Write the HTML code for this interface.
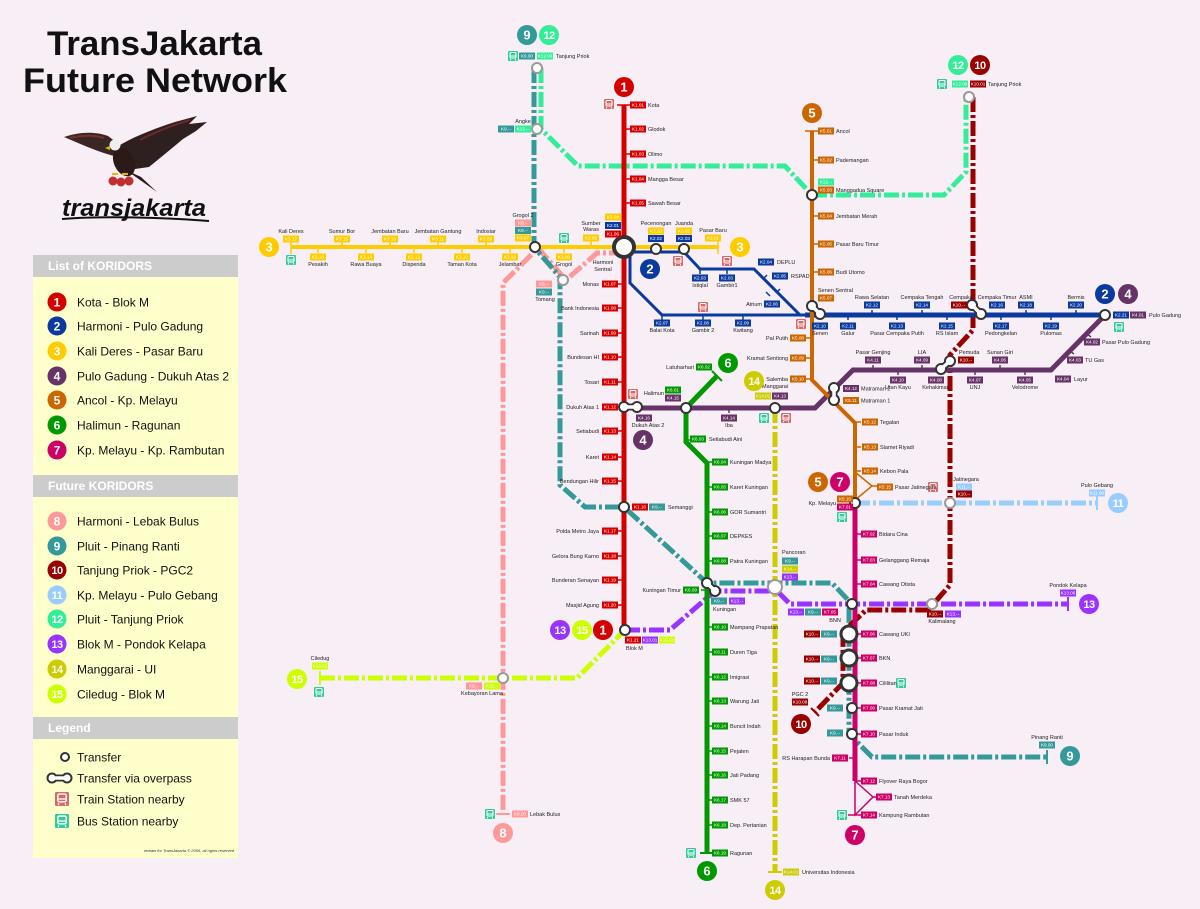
<!DOCTYPE html>
<html><head><meta charset="utf-8"><style>
html,body{margin:0;padding:0;background:#f8eef6}
svg{display:block}
text{font-family:"Liberation Sans",sans-serif}
.n{font-size:5.5px;fill:#222}
.e{text-anchor:end}
.m{text-anchor:middle}
.w{font-size:4.6px;fill:#fff;text-anchor:middle}
.bn{font-size:13px;font-weight:bold;fill:#fff;text-anchor:middle}
.bs{font-size:11px;font-weight:bold;fill:#fff;text-anchor:middle;letter-spacing:-0.5px}
.c1{fill:#d40000}.c2{fill:#0a3a9e}.c3{fill:#ffcc00}.c4{fill:#663366}.c5{fill:#cc6600}.c6{fill:#009900}.c7{fill:#cc0066}.c8{fill:#ff9999}.c9{fill:#339999}.c10{fill:#990000}.c11{fill:#99ccff}.c12{fill:#33ee99}.c13{fill:#9933ff}.c14{fill:#cccc00}.c15{fill:#ccff00}
.fl{fill:none;stroke-width:5;stroke-dasharray:15 3 3 3}
.sl{fill:none}
.tr{fill:#fff;stroke:#333;stroke-width:2}
.tg{fill:#fff;stroke:#999;stroke-width:2}
.lg{font-size:12px;fill:#111}
.hd{font-size:12px;font-weight:bold;fill:#fff}
</style></head><body>
<svg width="1200" height="909" viewBox="0 0 1200 909" xmlns="http://www.w3.org/2000/svg">
<rect width="1200" height="909" fill="#f8eef6"/>

<!-- Title -->
<text x="47" y="55" font-size="34" font-weight="bold" textLength="215" lengthAdjust="spacingAndGlyphs" fill="#111">TransJakarta</text>
<text x="23" y="92" font-size="34" font-weight="bold" textLength="264" lengthAdjust="spacingAndGlyphs" fill="#111">Future Network</text>

<!-- Eagle -->
<g>
<path d="M64 137 C78 132 95 131 108 136 L120 145 L114 156 C102 153 90 148 78 143 Z" fill="#3a2624"/>
<path d="M70 138 C82 135 95 135 104 138" stroke="#7a3030" stroke-width="2" fill="none"/>
<path d="M112 150 C126 140 150 130 175 122 L197 116 L189 124 L207 122 L196 131 L183 139 C171 149 159 159 149 167 L128 170 Z" fill="#2e201e"/>
<path d="M140 140 C155 132 170 126 190 120" stroke="#6a2a2a" stroke-width="2" fill="none"/>
<ellipse cx="124" cy="162" rx="10" ry="15" transform="rotate(-25 124 162)" fill="#2a1a18"/>
<path d="M126 170 L157 192 L141 177 Z" fill="#2a1a18"/>
<circle cx="115" cy="145" r="5.5" fill="#eeeeee"/>
<path d="M110 146 l-5 2 l5 2z" fill="#e8b800"/>
<path d="M112 174h6M122 174h6" stroke="#e8b800" stroke-width="2"/>
<circle cx="113" cy="181" r="4.5" fill="#c03030"/>
<circle cx="121" cy="182" r="4.5" fill="#c03030"/>
<circle cx="129" cy="181" r="4.5" fill="#c03030"/>
</g>
<text x="62" y="216" font-size="24" font-weight="bold" font-style="italic" textLength="144" lengthAdjust="spacingAndGlyphs" fill="#111">transjakarta</text>
<path d="M62 219 C100 216 160 217 209 221" stroke="#111" stroke-width="2" fill="none"/>

<!-- Legend panel -->
<rect x="33" y="255" width="205" height="603" fill="#ffffcc"/>
<rect x="33" y="255" width="205" height="22" fill="#cccccc"/>
<text x="48" y="270" class="hd">List of KORIDORS</text>
<rect x="33" y="475" width="205" height="22" fill="#cccccc"/>
<text x="48" y="490" class="hd">Future KORIDORS</text>
<rect x="33" y="717" width="205" height="22" fill="#cccccc"/>
<text x="48" y="732" class="hd">Legend</text>

<g>
<circle cx="57" cy="302" r="9.5" fill="#d40000"/><text x="57" y="306.5" class="bn" style="font-size:12px">1</text><text x="77" y="306.5" class="lg">Kota - Blok M</text>
<circle cx="57" cy="326" r="9.5" fill="#0a3a9e"/><text x="57" y="330.5" class="bn" style="font-size:12px">2</text><text x="77" y="330.5" class="lg">Harmoni - Pulo Gadung</text>
<circle cx="57" cy="351" r="9.5" fill="#ffcc00"/><text x="57" y="355.5" class="bn" style="font-size:12px">3</text><text x="77" y="355.5" class="lg">Kali Deres - Pasar Baru</text>
<circle cx="57" cy="376" r="9.5" fill="#663366"/><text x="57" y="380.5" class="bn" style="font-size:12px">4</text><text x="77" y="380.5" class="lg">Pulo Gadung - Dukuh Atas 2</text>
<circle cx="57" cy="400" r="9.5" fill="#cc6600"/><text x="57" y="404.5" class="bn" style="font-size:12px">5</text><text x="77" y="404.5" class="lg">Ancol - Kp. Melayu</text>
<circle cx="57" cy="425" r="9.5" fill="#009900"/><text x="57" y="429.5" class="bn" style="font-size:12px">6</text><text x="77" y="429.5" class="lg">Halimun - Ragunan</text>
<circle cx="57" cy="450" r="9.5" fill="#cc0066"/><text x="57" y="454.5" class="bn" style="font-size:12px">7</text><text x="77" y="454.5" class="lg">Kp. Melayu - Kp. Rambutan</text>

<circle cx="57" cy="521" r="9.5" fill="#ff9999"/><text x="57" y="525.5" class="bn" style="font-size:12px">8</text><text x="77" y="525.5" class="lg">Harmoni - Lebak Bulus</text>
<circle cx="57" cy="546" r="9.5" fill="#339999"/><text x="57" y="550.5" class="bn" style="font-size:12px">9</text><text x="77" y="550.5" class="lg">Pluit - Pinang Ranti</text>
<circle cx="57" cy="570" r="9.5" fill="#990000"/><text x="57" y="574" class="bs">10</text><text x="77" y="574.5" class="lg">Tanjung Priok - PGC2</text>
<circle cx="57" cy="595" r="9.5" fill="#99ccff"/><text x="57" y="599" class="bs">11</text><text x="77" y="599.5" class="lg">Kp. Melayu - Pulo Gebang</text>
<circle cx="57" cy="619" r="9.5" fill="#33ee99"/><text x="57" y="623" class="bs">12</text><text x="77" y="623.5" class="lg">Pluit - Tanjung Priok</text>
<circle cx="57" cy="644" r="9.5" fill="#9933ff"/><text x="57" y="648" class="bs">13</text><text x="77" y="648.5" class="lg">Blok M - Pondok Kelapa</text>
<circle cx="57" cy="669" r="9.5" fill="#cccc00"/><text x="57" y="673" class="bs">14</text><text x="77" y="673.5" class="lg">Manggarai - UI</text>
<circle cx="57" cy="694" r="9.5" fill="#ccff00"/><text x="57" y="698" class="bs">15</text><text x="77" y="698.5" class="lg">Ciledug - Blok M</text>

<circle cx="65" cy="757" r="4" class="tr"/><text x="77" y="761.5" class="lg">Transfer</text>
<line x1="52" y1="778" x2="67" y2="778" stroke="#333" stroke-width="7"/>
<circle cx="52" cy="778" r="4.5" class="tr"/><circle cx="67" cy="778" r="4.5" class="tr"/>
<line x1="52" y1="778" x2="67" y2="778" stroke="#fff" stroke-width="3.5"/>
<text x="77" y="782.5" class="lg">Transfer via overpass</text>
<g transform="translate(62 799) scale(1.4)"><rect x="-5" y="-5" width="10" height="10" rx="1" fill="#d46a6a"/><rect x="-3" y="-3.5" width="6" height="5.5" rx="1" fill="none" stroke="#fff" stroke-width="1"/><path d="M-3 0h6M-2.5 3v1.5M2.5 3v1.5" stroke="#fff" stroke-width=".9"/></g>
<text x="77" y="803.5" class="lg">Train Station nearby</text>
<g transform="translate(62 821) scale(1.4)"><rect x="-5" y="-5" width="10" height="10" rx="1" fill="#33cc99"/><rect x="-3" y="-3.5" width="6" height="5.5" rx="1" fill="none" stroke="#fff" stroke-width="1"/><path d="M-3 0h6M-2.5 3v1.5M2.5 3v1.5" stroke="#fff" stroke-width=".9"/></g>
<text x="77" y="825.5" class="lg">Bus Station nearby</text>
<text x="234" y="852" font-size="4" font-style="italic" fill="#333" text-anchor="end">redraw for TransJakarta © 2006, all rights reserved</text>
</g>

<!-- ===== FUTURE LINES ===== -->
<path class="fl" stroke="#ff9999" d="M624 253H597L566 280L538 248L503 283V814"/>
<path d="M496 814h14" stroke="#ff9999" stroke-width="2"/>
<path class="fl" stroke="#339999" d="M534 68V247L560 277V485L585 507H624L707 583H832L849 601V734L872 757H1047"/>
<path d="M1047 750v14" stroke="#339999" stroke-width="2"/>
<path class="fl" stroke="#33ee99" d="M541 68V129L578 166H785L812 195H944L966 172V97"/>
<path class="fl" stroke="#990000" d="M973 97V330L950 355V585L928 610H866L843 632V683L815 712"/>
<path d="M811 708l8 8" stroke="#990000" stroke-width="2"/>
<path class="fl" stroke="#99ccff" d="M855 503H1097"/>
<path d="M1097 496v14" stroke="#99ccff" stroke-width="2"/>
<path class="fl" stroke="#9933ff" d="M625 630H670L715 591H777L790 604H1068"/>
<path d="M1068 597v14" stroke="#9933ff" stroke-width="2"/>
<path class="fl" stroke="#cccc00" d="M775 408V872"/>
<path d="M768 872h14" stroke="#cccc00" stroke-width="2"/>
<path class="fl" stroke="#ccff00" d="M320 678H577L625 630"/>
<path d="M320 671v14" stroke="#ccff00" stroke-width="2"/>

<!-- ===== SOLID LINES ===== -->
<path class="sl" stroke="#ffcc00" stroke-width="4" d="M291 247H718"/>
<path stroke="#ffcc00" stroke-width="1.5" d="M291 240v14M718 240v14M342 241v6M390 241v6M438 241v6M486 241v6M591 241v6M318 247v6M366 247v6M414 247v6M462 247v6M510 247v6M564 247v6"/>

<path class="sl" stroke="#0a3a9e" stroke-width="3" d="M624 252H684L700 269H754L800 315"/>
<path class="sl" stroke="#0a3a9e" stroke-width="3" d="M630 252V283L662 315H805"/>
<path class="sl" stroke="#0a3a9e" stroke-width="5" d="M805 315H1105"/>
<path stroke="#0a3a9e" stroke-width="1.5" d="M700 269v5M727 269v5M703 315v5M743 315v5M662 315v5M848 315v5M897 315v5M947 315v5M1001 315v5M1051 315v5M872 315v-5M922 315v-5M1026 315v-5M1076 315v-5M763 279l4-4M776 293l4-4M766 292l4 4"/>

<path class="sl" stroke="#d40000" stroke-width="5" d="M624 105V630"/>
<path stroke="#d40000" stroke-width="1.6" d="M617 105h14M624 129h6M624 154h6M624 179h6M624 203h6M618 284h6M618 308h6M618 333h6M618 357h6M618 382h6M618 431h6M618 457h6M618 481h6M618 531h6M618 556h6M618 580h6M618 605h6"/>

<path class="sl" stroke="#663366" stroke-width="5" d="M1105 315L1051 370H853L815 408H637"/>
<path stroke="#663366" stroke-width="1.5" d="M873 370v-5M922 370v-5M1000 370v-5M898 370v5M975 370v5M1025 370v5M729 408v5M1087 334l4 3M1070 351l4 3"/>

<path class="sl" stroke="#cc6600" stroke-width="4" d="M812 131V380L855 423V503"/>
<path class="sl" stroke="#cc6600" stroke-width="1.5" d="M855 472L872 486L855 500"/>
<path stroke="#cc6600" stroke-width="1.6" d="M805 131h14M812 160h6M812 216h6M812 244h6M812 272h6M806 338h6M806 358h6M806 379h6M855 422h6M855 447h6M855 471h6M872 486h5"/>

<path class="sl" stroke="#009900" stroke-width="5" d="M717 376L686 408V442L707 463V853"/>
<path stroke="#009900" stroke-width="2" d="M712 371l10 10M700 853h14"/>
<path stroke="#009900" stroke-width="1.5" d="M686 440h6M707 462h6M707 487h6M707 512h6M707 536h6M707 561h6M701 590h6M707 627h6M707 652h6M707 677h6M707 701h6M707 726h6M707 751h6M707 775h6M707 800h6M707 825h6"/>

<path class="sl" stroke="#cc0066" stroke-width="5" d="M855 503V781"/>
<path class="sl" stroke="#cc0066" stroke-width="1.5" d="M855 781L873 797L855 815V781"/>
<path stroke="#cc0066" stroke-width="1.6" d="M848 815h14M855 534h6M855 560h6M855 584h6M855 634h6M855 658h6M855 683h6M855 708h6M855 734h6M849 758h6M855 781h6M873 797h4"/>

<!-- ===== TRANSFER CIRCLES ===== -->
<circle cx="624" cy="247" r="10" fill="#fff" stroke="#333" stroke-width="4"/>
<circle cx="535" cy="247" r="5" class="tr"/>
<circle cx="656" cy="249" r="5" class="tr"/>
<circle cx="684" cy="249" r="5" class="tr"/>
<circle cx="686" cy="408" r="5" class="tr"/>
<circle cx="775" cy="408" r="5" class="tr"/>
<circle cx="624" cy="507" r="5" class="tr"/>
<circle cx="625" cy="630" r="5" class="tr"/>
<circle cx="812" cy="195" r="5" class="tr"/>
<circle cx="1105" cy="315" r="5" class="tr"/>
<circle cx="855" cy="503" r="5" class="tr"/>
<circle cx="852" cy="604" r="5" class="tr"/>
<circle cx="852" cy="708" r="5" class="tr"/>
<circle cx="852" cy="734" r="5" class="tr"/>
<circle cx="537" cy="68" r="5" class="tg"/>
<circle cx="537" cy="129" r="5" class="tg"/>
<circle cx="563" cy="280" r="5" class="tg"/>
<circle cx="775" cy="587" r="7" class="tg"/>
<circle cx="503" cy="678" r="5" class="tg"/>
<circle cx="950" cy="503" r="5" class="tg"/>
<circle cx="932" cy="604" r="5" class="tg"/>
<circle cx="969" cy="97" r="5" class="tg"/>
<circle cx="849" cy="634" r="8" fill="#fff" stroke="#333" stroke-width="3"/>
<circle cx="849" cy="658" r="8" fill="#fff" stroke="#333" stroke-width="3"/>
<circle cx="849" cy="683" r="8" fill="#fff" stroke="#333" stroke-width="3"/>

<!-- overpass pairs -->
<g>
<line x1="624" y1="407" x2="637" y2="407" stroke="#333" stroke-width="7"/>
<circle cx="624" cy="407" r="5" class="tr"/><circle cx="637" cy="407" r="5" class="tr"/>
<line x1="624" y1="407" x2="637" y2="407" stroke="#fff" stroke-width="3.5"/>

<line x1="812" y1="306" x2="820" y2="314" stroke="#333" stroke-width="7"/>
<circle cx="812" cy="306" r="5" class="tr"/><circle cx="820" cy="314" r="5" class="tr"/>
<line x1="812" y1="306" x2="820" y2="314" stroke="#fff" stroke-width="3.5"/>

<line x1="972" y1="305" x2="981" y2="314" stroke="#333" stroke-width="7"/>
<circle cx="972" cy="305" r="5" class="tr"/><circle cx="981" cy="314" r="5" class="tr"/>
<line x1="972" y1="305" x2="981" y2="314" stroke="#fff" stroke-width="3.5"/>

<line x1="834" y1="388" x2="834" y2="400" stroke="#333" stroke-width="7"/>
<circle cx="834" cy="388" r="5" class="tr"/><circle cx="834" cy="400" r="5" class="tr"/>
<line x1="834" y1="388" x2="834" y2="400" stroke="#fff" stroke-width="3.5"/>

<line x1="941" y1="369" x2="950" y2="361" stroke="#333" stroke-width="7"/>
<circle cx="941" cy="369" r="5" class="tr"/><circle cx="950" cy="361" r="5" class="tr"/>
<line x1="941" y1="369" x2="950" y2="361" stroke="#fff" stroke-width="3.5"/>

<line x1="707" y1="583" x2="715" y2="591" stroke="#333" stroke-width="7"/>
<circle cx="707" cy="583" r="5" class="tr"/><circle cx="715" cy="591" r="5" class="tr"/>
<line x1="707" y1="583" x2="715" y2="591" stroke="#fff" stroke-width="3.5"/>
</g>

<!-- ===== ICONS ===== -->
<g id="icons">
<g transform="translate(609 104)"><rect x="-5" y="-5" width="10" height="10" rx="1" fill="#d46a6a"/><rect x="-3" y="-3.5" width="6" height="5.5" rx="1" fill="none" stroke="#fff" stroke-width="1"/><path d="M-3 0h6M-2.5 3v1.5M2.5 3v1.5" stroke="#fff" stroke-width=".9"/></g>
<g transform="translate(678 261)"><rect x="-5" y="-5" width="10" height="10" rx="1" fill="#d46a6a"/><rect x="-3" y="-3.5" width="6" height="5.5" rx="1" fill="none" stroke="#fff" stroke-width="1"/><path d="M-3 0h6M-2.5 3v1.5M2.5 3v1.5" stroke="#fff" stroke-width=".9"/></g>
<g transform="translate(727 261)"><rect x="-5" y="-5" width="10" height="10" rx="1" fill="#d46a6a"/><rect x="-3" y="-3.5" width="6" height="5.5" rx="1" fill="none" stroke="#fff" stroke-width="1"/><path d="M-3 0h6M-2.5 3v1.5M2.5 3v1.5" stroke="#fff" stroke-width=".9"/></g>
<g transform="translate(703 307)"><rect x="-5" y="-5" width="10" height="10" rx="1" fill="#d46a6a"/><rect x="-3" y="-3.5" width="6" height="5.5" rx="1" fill="none" stroke="#fff" stroke-width="1"/><path d="M-3 0h6M-2.5 3v1.5M2.5 3v1.5" stroke="#fff" stroke-width=".9"/></g>
<g transform="translate(801 324)"><rect x="-5" y="-5" width="10" height="10" rx="1" fill="#d46a6a"/><rect x="-3" y="-3.5" width="6" height="5.5" rx="1" fill="none" stroke="#fff" stroke-width="1"/><path d="M-3 0h6M-2.5 3v1.5M2.5 3v1.5" stroke="#fff" stroke-width=".9"/></g>
<g transform="translate(633 394)"><rect x="-5" y="-5" width="10" height="10" rx="1" fill="#d46a6a"/><rect x="-3" y="-3.5" width="6" height="5.5" rx="1" fill="none" stroke="#fff" stroke-width="1"/><path d="M-3 0h6M-2.5 3v1.5M2.5 3v1.5" stroke="#fff" stroke-width=".9"/></g>
<g transform="translate(786 418)"><rect x="-5" y="-5" width="10" height="10" rx="1" fill="#d46a6a"/><rect x="-3" y="-3.5" width="6" height="5.5" rx="1" fill="none" stroke="#fff" stroke-width="1"/><path d="M-3 0h6M-2.5 3v1.5M2.5 3v1.5" stroke="#fff" stroke-width=".9"/></g>
<g transform="translate(933 487)"><rect x="-5" y="-5" width="10" height="10" rx="1" fill="#d46a6a"/><rect x="-3" y="-3.5" width="6" height="5.5" rx="1" fill="none" stroke="#fff" stroke-width="1"/><path d="M-3 0h6M-2.5 3v1.5M2.5 3v1.5" stroke="#fff" stroke-width=".9"/></g>

<g transform="translate(513 56)"><rect x="-5" y="-5" width="10" height="10" rx="1" fill="#33cc99"/><rect x="-3" y="-3.5" width="6" height="5.5" rx="1" fill="none" stroke="#fff" stroke-width="1"/><path d="M-3 0h6M-2.5 3v1.5M2.5 3v1.5" stroke="#fff" stroke-width=".9"/></g>
<g transform="translate(942 84)"><rect x="-5" y="-5" width="10" height="10" rx="1" fill="#33cc99"/><rect x="-3" y="-3.5" width="6" height="5.5" rx="1" fill="none" stroke="#fff" stroke-width="1"/><path d="M-3 0h6M-2.5 3v1.5M2.5 3v1.5" stroke="#fff" stroke-width=".9"/></g>
<g transform="translate(291 260)"><rect x="-5" y="-5" width="10" height="10" rx="1" fill="#33cc99"/><rect x="-3" y="-3.5" width="6" height="5.5" rx="1" fill="none" stroke="#fff" stroke-width="1"/><path d="M-3 0h6M-2.5 3v1.5M2.5 3v1.5" stroke="#fff" stroke-width=".9"/></g>
<g transform="translate(564 238)"><rect x="-5" y="-5" width="10" height="10" rx="1" fill="#33cc99"/><rect x="-3" y="-3.5" width="6" height="5.5" rx="1" fill="none" stroke="#fff" stroke-width="1"/><path d="M-3 0h6M-2.5 3v1.5M2.5 3v1.5" stroke="#fff" stroke-width=".9"/></g>
<g transform="translate(1119 327)"><rect x="-5" y="-5" width="10" height="10" rx="1" fill="#33cc99"/><rect x="-3" y="-3.5" width="6" height="5.5" rx="1" fill="none" stroke="#fff" stroke-width="1"/><path d="M-3 0h6M-2.5 3v1.5M2.5 3v1.5" stroke="#fff" stroke-width=".9"/></g>
<g transform="translate(764 418)"><rect x="-5" y="-5" width="10" height="10" rx="1" fill="#33cc99"/><rect x="-3" y="-3.5" width="6" height="5.5" rx="1" fill="none" stroke="#fff" stroke-width="1"/><path d="M-3 0h6M-2.5 3v1.5M2.5 3v1.5" stroke="#fff" stroke-width=".9"/></g>
<g transform="translate(842 517)"><rect x="-5" y="-5" width="10" height="10" rx="1" fill="#33cc99"/><rect x="-3" y="-3.5" width="6" height="5.5" rx="1" fill="none" stroke="#fff" stroke-width="1"/><path d="M-3 0h6M-2.5 3v1.5M2.5 3v1.5" stroke="#fff" stroke-width=".9"/></g>
<g transform="translate(901 683)"><rect x="-5" y="-5" width="10" height="10" rx="1" fill="#33cc99"/><rect x="-3" y="-3.5" width="6" height="5.5" rx="1" fill="none" stroke="#fff" stroke-width="1"/><path d="M-3 0h6M-2.5 3v1.5M2.5 3v1.5" stroke="#fff" stroke-width=".9"/></g>
<g transform="translate(842 815)"><rect x="-5" y="-5" width="10" height="10" rx="1" fill="#33cc99"/><rect x="-3" y="-3.5" width="6" height="5.5" rx="1" fill="none" stroke="#fff" stroke-width="1"/><path d="M-3 0h6M-2.5 3v1.5M2.5 3v1.5" stroke="#fff" stroke-width=".9"/></g>
<g transform="translate(691 853)"><rect x="-5" y="-5" width="10" height="10" rx="1" fill="#33cc99"/><rect x="-3" y="-3.5" width="6" height="5.5" rx="1" fill="none" stroke="#fff" stroke-width="1"/><path d="M-3 0h6M-2.5 3v1.5M2.5 3v1.5" stroke="#fff" stroke-width=".9"/></g>
<g transform="translate(490 814)"><rect x="-5" y="-5" width="10" height="10" rx="1" fill="#33cc99"/><rect x="-3" y="-3.5" width="6" height="5.5" rx="1" fill="none" stroke="#fff" stroke-width="1"/><path d="M-3 0h6M-2.5 3v1.5M2.5 3v1.5" stroke="#fff" stroke-width=".9"/></g>
<g transform="translate(319 692)"><rect x="-5" y="-5" width="10" height="10" rx="1" fill="#33cc99"/><rect x="-3" y="-3.5" width="6" height="5.5" rx="1" fill="none" stroke="#fff" stroke-width="1"/><path d="M-3 0h6M-2.5 3v1.5M2.5 3v1.5" stroke="#fff" stroke-width=".9"/></g>
</g>

<!-- ===== LABELS ===== -->
<!-- Line 1 -->
<g>
<rect x="630" y="101.5" width="16" height="7" class="c1"/><text x="638" y="106.7" class="w">K1.01</text><text x="648" y="107" class="n">Kota</text>
<rect x="630" y="125.5" width="16" height="7" class="c1"/><text x="638" y="130.7" class="w">K1.02</text><text x="648" y="131" class="n">Glodok</text>
<rect x="630" y="150.5" width="16" height="7" class="c1"/><text x="638" y="155.7" class="w">K1.03</text><text x="648" y="156" class="n">Olimo</text>
<rect x="630" y="175.5" width="16" height="7" class="c1"/><text x="638" y="180.7" class="w">K1.04</text><text x="648" y="181" class="n">Mangga Besar</text>
<rect x="630" y="199.5" width="16" height="7" class="c1"/><text x="638" y="204.7" class="w">K1.05</text><text x="648" y="205" class="n">Sawah Besar</text>
<rect x="605" y="213.5" width="16" height="7" class="c3"/><text x="613" y="218.7" class="w">K3.04</text>
<rect x="605" y="222" width="16" height="7" class="c2"/><text x="613" y="227.2" class="w">K2.01</text>
<rect x="605" y="230.5" width="16" height="7" class="c1"/><text x="613" y="235.7" class="w">K1.06</text>
<text x="603" y="264" class="n m">Harmoni</text><text x="603" y="271" class="n m">Sentral</text>

<rect x="602" y="280.5" width="16" height="7" class="c1"/><text x="610" y="285.7" class="w">K1.07</text><text x="599" y="286" class="n e">Monas</text>
<rect x="602" y="304.5" width="16" height="7" class="c1"/><text x="610" y="309.7" class="w">K1.08</text><text x="599" y="310" class="n e">Bank Indonesia</text>
<rect x="602" y="329.5" width="16" height="7" class="c1"/><text x="610" y="334.7" class="w">K1.09</text><text x="599" y="335" class="n e">Sarinah</text>
<rect x="602" y="353.5" width="16" height="7" class="c1"/><text x="610" y="358.7" class="w">K1.10</text><text x="599" y="359" class="n e">Bundesan HI</text>
<rect x="602" y="378.5" width="16" height="7" class="c1"/><text x="610" y="383.7" class="w">K1.11</text><text x="599" y="384" class="n e">Tosari</text>
<rect x="602" y="403.5" width="16" height="7" class="c1"/><text x="610" y="408.7" class="w">K1.12</text><text x="599" y="409" class="n e">Dukuh Atas 1</text>
<rect x="602" y="427.5" width="16" height="7" class="c1"/><text x="610" y="432.7" class="w">K1.13</text><text x="599" y="433" class="n e">Setiabudi</text>
<rect x="602" y="453.5" width="16" height="7" class="c1"/><text x="610" y="458.7" class="w">K1.14</text><text x="599" y="459" class="n e">Karet</text>
<rect x="602" y="477.5" width="16" height="7" class="c1"/><text x="610" y="482.7" class="w">K1.15</text><text x="599" y="483" class="n e">Bendungan Hilir</text>
<rect x="632" y="503.5" width="16" height="7" class="c1"/><text x="640" y="508.7" class="w">K1.16</text>
<rect x="649" y="503.5" width="16" height="7" class="c9"/><text x="657" y="508.7" class="w">K9.--</text><text x="668" y="509" class="n">Semanggi</text>
<rect x="602" y="527.5" width="16" height="7" class="c1"/><text x="610" y="532.7" class="w">K1.17</text><text x="599" y="533" class="n e">Polda Metro Jaya</text>
<rect x="602" y="552.5" width="16" height="7" class="c1"/><text x="610" y="557.7" class="w">K1.18</text><text x="599" y="558" class="n e">Gelora Bung Karno</text>
<rect x="602" y="576.5" width="16" height="7" class="c1"/><text x="610" y="581.7" class="w">K1.19</text><text x="599" y="582" class="n e">Bunderan Senayan</text>
<rect x="602" y="601.5" width="16" height="7" class="c1"/><text x="610" y="606.7" class="w">K1.20</text><text x="599" y="607" class="n e">Masjid Agung</text>
<rect x="625" y="636.5" width="16" height="7" class="c1"/><text x="633" y="641.7" class="w">K1.21</text>
<rect x="642" y="636.5" width="16" height="7" class="c13"/><text x="650" y="641.7" class="w">K13.01</text>
<rect x="659" y="636.5" width="16" height="7" class="c15"/><text x="667" y="641.7" class="w">K15.01</text>
<text x="626" y="650" class="n">Blok M</text>
</g>

<!-- Line 3 -->
<g>
<text x="291" y="233" class="n m">Kali Deres</text><rect x="283" y="235.5" width="16" height="7" class="c3"/><text x="291" y="240.7" class="w">K3.17</text>
<text x="342" y="233" class="n m">Sumur Bor</text><rect x="334" y="235.5" width="16" height="7" class="c3"/><text x="342" y="240.7" class="w">K3.15</text>
<text x="390" y="233" class="n m">Jembatan Baru</text><rect x="382" y="235.5" width="16" height="7" class="c3"/><text x="390" y="240.7" class="w">K3.13</text>
<text x="438" y="233" class="n m">Jembatan Gantung</text><rect x="430" y="235.5" width="16" height="7" class="c3"/><text x="438" y="240.7" class="w">K3.11</text>
<text x="486" y="233" class="n m">Indosiar</text><rect x="478" y="235.5" width="16" height="7" class="c3"/><text x="486" y="240.7" class="w">K3.09</text>
<rect x="310" y="253.5" width="16" height="7" class="c3"/><text x="318" y="258.7" class="w">K3.16</text><text x="318" y="266" class="n m">Pesakih</text>
<rect x="358" y="253.5" width="16" height="7" class="c3"/><text x="366" y="258.7" class="w">K3.14</text><text x="366" y="266" class="n m">Rawa Buaya</text>
<rect x="406" y="253.5" width="16" height="7" class="c3"/><text x="414" y="258.7" class="w">K3.12</text><text x="414" y="266" class="n m">Dispenda</text>
<rect x="454" y="253.5" width="16" height="7" class="c3"/><text x="462" y="258.7" class="w">K3.10</text><text x="462" y="266" class="n m">Taman Kota</text>
<rect x="502" y="253.5" width="16" height="7" class="c3"/><text x="510" y="258.7" class="w">K3.08</text><text x="510" y="266" class="n m">Jelambar</text>
<rect x="556" y="253.5" width="16" height="7" class="c3"/><text x="564" y="258.7" class="w">K3.06</text><text x="564" y="266" class="n m">Grogol</text>
<text x="523" y="217" class="n m">Grogol 2</text>
<rect x="515" y="219.5" width="16" height="7" class="c8"/><text x="523" y="224.7" class="w">K8.--</text>
<rect x="515" y="227" width="16" height="7" class="c9"/><text x="523" y="232.2" class="w">K9.--</text>
<rect x="515" y="234.5" width="16" height="7" class="c3"/><text x="523" y="239.7" class="w">K3.07</text>
<text x="591" y="225" class="n m">Sumber</text><text x="591" y="231" class="n m">Waras</text>
<rect x="583" y="234.5" width="16" height="7" class="c3"/><text x="591" y="239.7" class="w">K3.05</text>
<text x="656" y="225" class="n m">Pecenongan</text>
<rect x="648" y="227.5" width="16" height="7" class="c3"/><text x="656" y="232.7" class="w">K3.03</text>
<rect x="648" y="235" width="16" height="7" class="c2"/><text x="656" y="240.2" class="w">K2.02</text>
<text x="684" y="225" class="n m">Juanda</text>
<rect x="676" y="227.5" width="16" height="7" class="c3"/><text x="684" y="232.7" class="w">K3.02</text>
<rect x="676" y="235" width="16" height="7" class="c2"/><text x="684" y="240.2" class="w">K2.03</text>
<text x="713" y="232" class="n m">Pasar Baru</text>
<rect x="705" y="234.5" width="16" height="7" class="c3"/><text x="713" y="239.7" class="w">K3.01</text>
</g>

<!-- Line 2 -->
<g>
<rect x="692" y="274.5" width="16" height="7" class="c2"/><text x="700" y="279.7" class="w">K2.03</text><text x="700" y="287" class="n m">Istiqlal</text>
<rect x="719" y="274.5" width="16" height="7" class="c2"/><text x="727" y="279.7" class="w">K2.03</text><text x="727" y="287" class="n m">Gambir1</text>
<rect x="758" y="258.5" width="16" height="7" class="c2"/><text x="766" y="263.7" class="w">K2.04</text><text x="777" y="264" class="n">DEPLU</text>
<rect x="772" y="272.5" width="16" height="7" class="c2"/><text x="780" y="277.7" class="w">K2.05</text><text x="791" y="278" class="n">RSPAD</text>
<text x="762" y="306" class="n e">Atrium</text><rect x="764" y="300.5" width="16" height="7" class="c2"/><text x="772" y="305.7" class="w">K2.06</text>
<rect x="654" y="319.5" width="16" height="7" class="c2"/><text x="662" y="324.7" class="w">K2.07</text><text x="662" y="332" class="n m">Balai Kota</text>
<rect x="695" y="319.5" width="16" height="7" class="c2"/><text x="703" y="324.7" class="w">K2.08</text><text x="703" y="332" class="n m">Gambir 2</text>
<rect x="735" y="319.5" width="16" height="7" class="c2"/><text x="743" y="324.7" class="w">K2.09</text><text x="743" y="332" class="n m">Kwitang</text>
<rect x="812" y="322.5" width="16" height="7" class="c2"/><text x="820" y="327.7" class="w">K2.10</text><text x="820" y="335" class="n m">Senen</text>
<rect x="840" y="322.5" width="16" height="7" class="c2"/><text x="848" y="327.7" class="w">K2.11</text><text x="848" y="335" class="n m">Galur</text>
<text x="872" y="299" class="n m">Rawa Selatan</text><rect x="864" y="301.5" width="16" height="7" class="c2"/><text x="872" y="306.7" class="w">K2.12</text>
<rect x="889" y="322.5" width="16" height="7" class="c2"/><text x="897" y="327.7" class="w">K2.13</text><text x="897" y="335" class="n m">Pasar Cempaka Putih</text>
<text x="922" y="299" class="n m">Cempaka Tengah</text><rect x="914" y="301.5" width="16" height="7" class="c2"/><text x="922" y="306.7" class="w">K2.14</text>
<rect x="939" y="322.5" width="16" height="7" class="c2"/><text x="947" y="327.7" class="w">K2.15</text><text x="947" y="335" class="n m">RS Islam</text>
<text x="961" y="299" class="n m">Cempaka</text><rect x="951" y="301.5" width="16" height="7" class="c10"/><text x="959" y="306.7" class="w">K10.--</text>
<text x="997" y="299" class="n m">Cempaka Timur</text><rect x="989" y="301.5" width="16" height="7" class="c2"/><text x="997" y="306.7" class="w">K2.16</text>
<rect x="993" y="322.5" width="16" height="7" class="c2"/><text x="1001" y="327.7" class="w">K2.17</text><text x="1001" y="335" class="n m">Pedongkelan</text>
<text x="1026" y="299" class="n m">ASMI</text><rect x="1018" y="301.5" width="16" height="7" class="c2"/><text x="1026" y="306.7" class="w">K2.18</text>
<rect x="1043" y="322.5" width="16" height="7" class="c2"/><text x="1051" y="327.7" class="w">K2.19</text><text x="1051" y="335" class="n m">Pulomas</text>
<text x="1076" y="299" class="n m">Bermis</text><rect x="1068" y="301.5" width="16" height="7" class="c2"/><text x="1076" y="306.7" class="w">K2.20</text>
<rect x="1113" y="311.5" width="16" height="7" class="c2"/><text x="1121" y="316.7" class="w">K2.21</text>
<rect x="1130" y="311.5" width="16" height="7" class="c4"/><text x="1138" y="316.7" class="w">K4.01</text>
<text x="1149" y="317" class="n">Pulo Gadung</text>
</g>

<!-- Line 4 -->
<g>
<rect x="1084" y="338.5" width="16" height="7" class="c4"/><text x="1092" y="343.7" class="w">K4.02</text><text x="1102" y="344" class="n">Pasar Pulo Gadung</text>
<rect x="1067" y="356.5" width="16" height="7" class="c4"/><text x="1075" y="361.7" class="w">K4.03</text><text x="1085" y="362" class="n">TU Gas</text>
<rect x="1055" y="375.5" width="16" height="7" class="c4"/><text x="1063" y="380.7" class="w">K4.04</text><text x="1074" y="381" class="n">Layur</text>
<rect x="1017" y="376.5" width="16" height="7" class="c4"/><text x="1025" y="381.7" class="w">K4.05</text><text x="1025" y="389" class="n m">Velodrome</text>
<text x="1000" y="354" class="n m">Sunan Giri</text><rect x="992" y="356.5" width="16" height="7" class="c4"/><text x="1000" y="361.7" class="w">K4.06</text>
<rect x="967" y="376.5" width="16" height="7" class="c4"/><text x="975" y="381.7" class="w">K4.07</text><text x="975" y="389" class="n m">UNJ</text>
<text x="959" y="354" class="n">Pemuda</text><rect x="958" y="356.5" width="16" height="7" class="c10"/><text x="966" y="361.7" class="w">K10.--</text>
<rect x="928" y="376.5" width="16" height="7" class="c4"/><text x="936" y="381.7" class="w">K4.08</text><text x="936" y="389" class="n m">Kehakiman</text>
<text x="922" y="354" class="n m">LIA</text><rect x="914" y="356.5" width="16" height="7" class="c4"/><text x="922" y="361.7" class="w">K4.09</text>
<rect x="890" y="376.5" width="16" height="7" class="c4"/><text x="898" y="381.7" class="w">K4.10</text><text x="898" y="389" class="n m">Utan Kayu</text>
<text x="873" y="354" class="n m">Pasar Genjing</text><rect x="865" y="356.5" width="16" height="7" class="c4"/><text x="873" y="361.7" class="w">K4.11</text>
<rect x="843" y="385" width="16" height="7" class="c4"/><text x="851" y="390.2" class="w">K4.12</text><text x="861" y="390.5" class="n">Matraman 2</text>
<rect x="843" y="397" width="16" height="7" class="c5"/><text x="851" y="402.2" class="w">K5.11</text><text x="861" y="402.5" class="n">Matraman 1</text>
<text x="775" y="388" class="n m">Manggarai</text>
<rect x="755" y="392.5" width="16" height="7" class="c14"/><text x="763" y="397.7" class="w">K14.01</text>
<rect x="772" y="392.5" width="16" height="7" class="c4"/><text x="780" y="397.7" class="w">K4.13</text>
<rect x="721" y="414.5" width="16" height="7" class="c4"/><text x="729" y="419.7" class="w">K4.14</text><text x="729" y="427" class="n m">Iba</text>
<text x="664" y="395" class="n e">Halimun</text>
<rect x="665" y="386.5" width="16" height="7" class="c6"/><text x="673" y="391.7" class="w">K6.01</text>
<rect x="665" y="394.5" width="16" height="7" class="c4"/><text x="673" y="399.7" class="w">K4.15</text>
<rect x="636" y="414.5" width="16" height="7" class="c4"/><text x="644" y="419.7" class="w">K4.16</text><text x="648" y="427" class="n m">Dukuh Atas 2</text>
<text x="694" y="369" class="n e">Latuharhari</text><rect x="696" y="363.5" width="16" height="7" class="c6"/><text x="704" y="368.7" class="w">K6.02</text>
</g>

<!-- Line 5 -->
<g>
<rect x="818" y="127.5" width="16" height="7" class="c5"/><text x="826" y="132.7" class="w">K5.01</text><text x="836" y="133" class="n">Ancol</text>
<rect x="818" y="156.5" width="16" height="7" class="c5"/><text x="826" y="161.7" class="w">K5.02</text><text x="836" y="162" class="n">Pademangan</text>
<rect x="818" y="178.5" width="16" height="7" class="c12"/><text x="826" y="183.7" class="w">K12.--</text>
<rect x="818" y="186.5" width="16" height="7" class="c5"/><text x="826" y="191.7" class="w">K5.03</text><text x="836" y="192" class="n">Manggadua Square</text>
<rect x="818" y="212.5" width="16" height="7" class="c5"/><text x="826" y="217.7" class="w">K5.04</text><text x="836" y="218" class="n">Jembatan Merah</text>
<rect x="818" y="240.5" width="16" height="7" class="c5"/><text x="826" y="245.7" class="w">K5.05</text><text x="836" y="246" class="n">Pasar Baru Timur</text>
<rect x="818" y="268.5" width="16" height="7" class="c5"/><text x="826" y="273.7" class="w">K5.06</text><text x="836" y="274" class="n">Budi Utomo</text>
<text x="818" y="292" class="n">Senen Sentral</text><rect x="818" y="294.5" width="16" height="7" class="c5"/><text x="826" y="299.7" class="w">K5.07</text>
<rect x="790" y="334.5" width="16" height="7" class="c5"/><text x="798" y="339.7" class="w">K5.08</text><text x="788" y="340" class="n e">Pal Putih</text>
<rect x="790" y="354.5" width="16" height="7" class="c5"/><text x="798" y="359.7" class="w">K5.09</text><text x="788" y="360" class="n e">Kramat Sentiong</text>
<rect x="790" y="375.5" width="16" height="7" class="c5"/><text x="798" y="380.7" class="w">K5.10</text><text x="788" y="381" class="n e">Salemba</text>
<rect x="862" y="418.5" width="16" height="7" class="c5"/><text x="870" y="423.7" class="w">K5.12</text><text x="880" y="424" class="n">Tegalan</text>
<rect x="862" y="443.5" width="16" height="7" class="c5"/><text x="870" y="448.7" class="w">K5.13</text><text x="880" y="449" class="n">Slamet Riyadi</text>
<rect x="862" y="467.5" width="16" height="7" class="c5"/><text x="870" y="472.7" class="w">K5.14</text><text x="880" y="473" class="n">Kebon Pala</text>
<rect x="877" y="483.5" width="16" height="7" class="c5"/><text x="885" y="488.7" class="w">K5.15</text><text x="895" y="489" class="n">Pasar Jatinegara</text>
<text x="836" y="505" class="n e">Kp. Melayu</text>
<rect x="837" y="495.5" width="16" height="7" class="c5"/><text x="845" y="500.7" class="w">K5.16</text>
<rect x="837" y="503.5" width="16" height="7" class="c7"/><text x="845" y="508.7" class="w">K7.01</text>
</g>

<!-- Line 7 -->
<g>
<rect x="861" y="530.5" width="16" height="7" class="c7"/><text x="869" y="535.7" class="w">K7.02</text><text x="879" y="536" class="n">Bidara Cina</text>
<rect x="861" y="556.5" width="16" height="7" class="c7"/><text x="869" y="561.7" class="w">K7.03</text><text x="879" y="562" class="n">Gelanggang Remaja</text>
<rect x="861" y="580.5" width="16" height="7" class="c7"/><text x="869" y="585.7" class="w">K7.04</text><text x="879" y="586" class="n">Cawang Otista</text>
<rect x="861" y="630.5" width="16" height="7" class="c7"/><text x="869" y="635.7" class="w">K7.06</text><text x="879" y="636" class="n">Cawang UKI</text>
<rect x="861" y="654.5" width="16" height="7" class="c7"/><text x="869" y="659.7" class="w">K7.07</text><text x="879" y="660" class="n">BKN</text>
<rect x="861" y="679.5" width="16" height="7" class="c7"/><text x="869" y="684.7" class="w">K7.08</text><text x="879" y="685" class="n">Cililitan</text>
<rect x="861" y="704.5" width="16" height="7" class="c7"/><text x="869" y="709.7" class="w">K7.09</text><text x="879" y="710" class="n">Pasar Kramat Jati</text>
<rect x="861" y="730.5" width="16" height="7" class="c7"/><text x="869" y="735.7" class="w">K7.10</text><text x="879" y="736" class="n">Pasar Induk</text>
<rect x="832" y="754.5" width="16" height="7" class="c7"/><text x="840" y="759.7" class="w">K7.11</text><text x="830" y="760" class="n e">RS Harapan Bunda</text>
<rect x="861" y="777.5" width="16" height="7" class="c7"/><text x="869" y="782.7" class="w">K7.12</text><text x="879" y="783" class="n">Flyover Raya Bogor</text>
<rect x="876" y="793.5" width="16" height="7" class="c7"/><text x="884" y="798.7" class="w">K7.13</text><text x="894" y="799" class="n">Tanah Merdeka</text>
<rect x="861" y="811.5" width="16" height="7" class="c7"/><text x="869" y="816.7" class="w">K7.14</text><text x="879" y="817" class="n">Kampung Rambutan</text>
<rect x="788" y="608.5" width="16" height="7" class="c13"/><text x="796" y="613.7" class="w">K13.--</text>
<rect x="805" y="608.5" width="16" height="7" class="c9"/><text x="813" y="613.7" class="w">K9.--</text>
<rect x="822" y="608.5" width="16" height="7" class="c7"/><text x="830" y="613.7" class="w">K7.05</text>
<text x="835" y="622" class="n m">BNN</text>
<rect x="804" y="630.5" width="16" height="7" class="c10"/><text x="812" y="635.7" class="w">K10.--</text><rect x="821" y="630.5" width="16" height="7" class="c9"/><text x="829" y="635.7" class="w">K9.--</text>
<rect x="804" y="655.5" width="16" height="7" class="c10"/><text x="812" y="660.7" class="w">K10.--</text><rect x="821" y="655.5" width="16" height="7" class="c9"/><text x="829" y="660.7" class="w">K9.--</text>
<rect x="804" y="677.5" width="16" height="7" class="c10"/><text x="812" y="682.7" class="w">K10.--</text><rect x="821" y="677.5" width="16" height="7" class="c9"/><text x="829" y="682.7" class="w">K9.--</text>
<rect x="827" y="704.5" width="16" height="7" class="c9"/><text x="835" y="709.7" class="w">K9.--</text>
<rect x="827" y="729.5" width="16" height="7" class="c9"/><text x="835" y="734.7" class="w">K9.--</text>
<text x="800" y="696" class="n m">PGC 2</text><rect x="792" y="698.5" width="16" height="7" class="c10"/><text x="800" y="703.7" class="w">K10.08</text>
</g>

<!-- Line 6 -->
<g>
<rect x="690" y="435.5" width="16" height="7" class="c6"/><text x="698" y="440.7" class="w">K6.03</text><text x="709" y="441" class="n">Setiabudi Aini</text>
<rect x="712" y="458.5" width="16" height="7" class="c6"/><text x="720" y="463.7" class="w">K6.04</text><text x="730" y="464" class="n">Kuningan Madya</text>
<rect x="712" y="483.5" width="16" height="7" class="c6"/><text x="720" y="488.7" class="w">K6.05</text><text x="730" y="489" class="n">Karet Kuningan</text>
<rect x="712" y="508.5" width="16" height="7" class="c6"/><text x="720" y="513.7" class="w">K6.06</text><text x="730" y="514" class="n">GOR Sumantri</text>
<rect x="712" y="532.5" width="16" height="7" class="c6"/><text x="720" y="537.7" class="w">K6.07</text><text x="730" y="538" class="n">DEPKES</text>
<rect x="712" y="557.5" width="16" height="7" class="c6"/><text x="720" y="562.7" class="w">K6.08</text><text x="730" y="563" class="n">Patra Kuningan</text>
<text x="681" y="592" class="n e">Kuningan Timur</text><rect x="683" y="586.5" width="16" height="7" class="c6"/><text x="691" y="591.7" class="w">K6.09</text>
<rect x="711" y="597.5" width="16" height="7" class="c9"/><text x="719" y="602.7" class="w">K9.--</text>
<rect x="729" y="597.5" width="16" height="7" class="c13"/><text x="737" y="602.7" class="w">K13.--</text>
<text x="713" y="611" class="n">Kuningan</text>
<rect x="712" y="623.5" width="16" height="7" class="c6"/><text x="720" y="628.7" class="w">K6.10</text><text x="730" y="629" class="n">Mampang Prapatan</text>
<rect x="712" y="648.5" width="16" height="7" class="c6"/><text x="720" y="653.7" class="w">K6.11</text><text x="730" y="654" class="n">Duren Tiga</text>
<rect x="712" y="673.5" width="16" height="7" class="c6"/><text x="720" y="678.7" class="w">K6.12</text><text x="730" y="679" class="n">Imigrasi</text>
<rect x="712" y="697.5" width="16" height="7" class="c6"/><text x="720" y="702.7" class="w">K6.13</text><text x="730" y="703" class="n">Warung Jati</text>
<rect x="712" y="722.5" width="16" height="7" class="c6"/><text x="720" y="727.7" class="w">K6.14</text><text x="730" y="728" class="n">Buncit Indah</text>
<rect x="712" y="747.5" width="16" height="7" class="c6"/><text x="720" y="752.7" class="w">K6.15</text><text x="730" y="753" class="n">Pejaten</text>
<rect x="712" y="771.5" width="16" height="7" class="c6"/><text x="720" y="776.7" class="w">K6.16</text><text x="730" y="777" class="n">Jati Padang</text>
<rect x="712" y="796.5" width="16" height="7" class="c6"/><text x="720" y="801.7" class="w">K6.17</text><text x="730" y="802" class="n">SMK 57</text>
<rect x="712" y="821.5" width="16" height="7" class="c6"/><text x="720" y="826.7" class="w">K6.18</text><text x="730" y="827" class="n">Dep. Pertanian</text>
<rect x="712" y="849.5" width="16" height="7" class="c6"/><text x="720" y="854.7" class="w">K6.19</text><text x="730" y="855" class="n">Ragunan</text>
</g>

<!-- Future line labels -->
<g>
<rect x="783" y="868.5" width="16" height="7" class="c14"/><text x="791" y="873.7" class="w">K14.01</text><text x="802" y="874" class="n">Universitas Indonesia</text>
<text x="782" y="554" class="n">Pancoran</text>
<rect x="782" y="557.5" width="16" height="7" class="c9"/><text x="790" y="562.7" class="w">K9.--</text>
<rect x="782" y="565.5" width="16" height="7" class="c14"/><text x="790" y="570.7" class="w">K14.--</text>
<rect x="782" y="573.5" width="16" height="7" class="c13"/><text x="790" y="578.7" class="w">K13.--</text>

<rect x="512" y="810.5" width="16" height="7" class="c8"/><text x="520" y="815.7" class="w">K8.00</text><text x="530" y="816" class="n">Lebak Bulus</text>
<rect x="466" y="682.5" width="16" height="7" class="c8"/><text x="474" y="687.7" class="w">K8.--</text>
<rect x="484" y="682.5" width="16" height="7" class="c15"/><text x="492" y="687.7" class="w">K15.--</text>
<text x="482" y="695" class="n m">Kebayoran Lama</text>
<rect x="536" y="280.5" width="16" height="7" class="c8"/><text x="544" y="285.7" class="w">K8.--</text>
<rect x="536" y="288.5" width="16" height="7" class="c9"/><text x="544" y="293.7" class="w">K9.--</text>
<text x="545" y="301" class="n m">Tomang</text>

<text x="320" y="660" class="n m">Ciledug</text><rect x="312" y="662.5" width="16" height="7" class="c15"/><text x="320" y="667.7" class="w">K15.01</text>

<text x="1068" y="587" class="n m">Pondok Kelapa</text><rect x="1060" y="589.5" width="16" height="7" class="c13"/><text x="1068" y="594.7" class="w">K13.00</text>
<rect x="927" y="610.5" width="16" height="7" class="c10"/><text x="935" y="615.7" class="w">K10.--</text>
<rect x="945" y="610.5" width="16" height="7" class="c13"/><text x="953" y="615.7" class="w">K13.--</text>
<text x="942" y="623" class="n m">Kalimalang</text>

<text x="1097" y="487" class="n m">Pulo Gebang</text><rect x="1089" y="489.5" width="16" height="7" class="c11"/><text x="1097" y="494.7" class="w">K11.00</text>
<text x="966" y="481" class="n m">Jatinegara</text>
<rect x="956" y="483.5" width="16" height="7" class="c11"/><text x="964" y="488.7" class="w">K11.--</text>
<rect x="956" y="490.5" width="16" height="7" class="c10"/><text x="964" y="495.7" class="w">K10.--</text>

<rect x="519" y="52.5" width="16" height="7" class="c9"/><text x="527" y="57.7" class="w">K9.00</text>
<rect x="537" y="52.5" width="16" height="7" class="c12"/><text x="545" y="57.7" class="w">K12.00</text>
<text x="556" y="58" class="n">Tanjung Priok</text>
<text x="523" y="123" class="n m">Angke</text>
<rect x="498" y="125.5" width="16" height="7" class="c9"/><text x="506" y="130.7" class="w">K9.--</text>
<rect x="515" y="125.5" width="16" height="7" class="c12"/><text x="523" y="130.7" class="w">K12.--</text>

<rect x="952" y="80.5" width="16" height="7" class="c12"/><text x="960" y="85.7" class="w">K12.00</text>
<rect x="970" y="80.5" width="16" height="7" class="c10"/><text x="978" y="85.7" class="w">K10.01</text>
<text x="988" y="86" class="n">Tanjung Priok</text>

<text x="1047" y="739" class="n m">Pinang Ranti</text><rect x="1039" y="741.5" width="16" height="7" class="c9"/><text x="1047" y="746.7" class="w">K9.00</text>
</g>

<!-- ===== BADGES ===== -->
<g>
<circle cx="624" cy="87" r="10" fill="#d40000"/><text x="624" y="91.5" class="bn">1</text>
<circle cx="527" cy="35" r="10" fill="#339999"/><text x="527" y="39.5" class="bn">9</text>
<circle cx="549" cy="35" r="10" fill="#33ee99"/><text x="549" y="39" class="bs">12</text>
<circle cx="269" cy="247" r="10" fill="#ffcc00"/><text x="269" y="251.5" class="bn">3</text>
<circle cx="740" cy="247" r="10" fill="#ffcc00"/><text x="740" y="251.5" class="bn">3</text>
<circle cx="650" cy="269" r="10" fill="#0a3a9e"/><text x="650" y="273.5" class="bn">2</text>
<circle cx="812" cy="113" r="10" fill="#cc6600"/><text x="812" y="117.5" class="bn">5</text>
<circle cx="958" cy="65" r="10" fill="#33ee99"/><text x="958" y="69" class="bs">12</text>
<circle cx="980" cy="65" r="10" fill="#990000"/><text x="980" y="69" class="bs">10</text>
<circle cx="1105" cy="294" r="10" fill="#0a3a9e"/><text x="1105" y="298.5" class="bn">2</text>
<circle cx="1128" cy="294" r="10" fill="#663366"/><text x="1128" y="298.5" class="bn">4</text>
<circle cx="728" cy="363" r="10" fill="#009900"/><text x="728" y="367.5" class="bn">6</text>
<circle cx="754" cy="381" r="10" fill="#cccc00"/><text x="754" y="385" class="bs">14</text>
<circle cx="643" cy="440" r="10" fill="#663366"/><text x="643" y="444.5" class="bn">4</text>
<circle cx="818" cy="482" r="10" fill="#cc6600"/><text x="818" y="486.5" class="bn">5</text>
<circle cx="840" cy="482" r="10" fill="#cc0066"/><text x="840" y="486.5" class="bn">7</text>
<circle cx="1118" cy="503" r="10" fill="#99ccff"/><text x="1118" y="507" class="bs">11</text>
<circle cx="1089" cy="604" r="10" fill="#9933ff"/><text x="1089" y="608" class="bs">13</text>
<circle cx="560" cy="630" r="10" fill="#9933ff"/><text x="560" y="634" class="bs">13</text>
<circle cx="582" cy="630" r="10" fill="#ccff00"/><text x="582" y="634" class="bs">15</text>
<circle cx="603" cy="630" r="10" fill="#d40000"/><text x="603" y="634.5" class="bn">1</text>
<circle cx="297" cy="679" r="10" fill="#ccff00"/><text x="297" y="683" class="bs">15</text>
<circle cx="801" cy="724" r="10" fill="#990000"/><text x="801" y="728" class="bs">10</text>
<circle cx="1070" cy="756" r="10" fill="#339999"/><text x="1070" y="760.5" class="bn">9</text>
<circle cx="855" cy="835" r="10" fill="#cc0066"/><text x="855" y="839.5" class="bn">7</text>
<circle cx="503" cy="833" r="10" fill="#ff9999"/><text x="503" y="837.5" class="bn">8</text>
<circle cx="707" cy="871" r="10" fill="#009900"/><text x="707" y="875.5" class="bn">6</text>
<circle cx="775" cy="890" r="10" fill="#cccc00"/><text x="775" y="894" class="bs">14</text>
</g>
</svg>
</body></html>
